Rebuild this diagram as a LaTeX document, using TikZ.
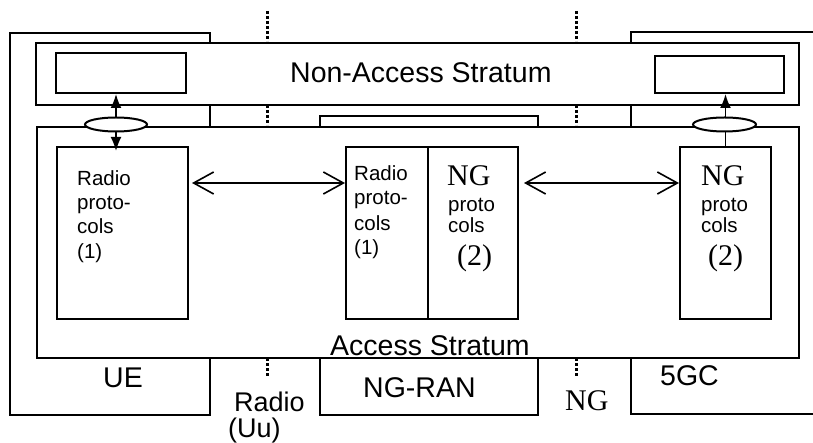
\documentclass[tikz,border=0pt]{standalone}
\usepackage{fontspec}
\setmainfont{Liberation Sans}
\newfontfamily\tms{Liberation Serif}
\usetikzlibrary{arrows.meta,shapes.geometric}
\begin{document}
\begin{tikzpicture}[x=1pt,y=-1pt,
  box/.style={draw, fill=white, rectangle, inner sep=0pt, line width=2pt, anchor=north west},
  oval/.style={draw, fill=white, ellipse, inner sep=0pt, line width=2pt},
  biglabel/.style={anchor=base west, inner sep=0pt, font=\fontsize{28.5pt}{30pt}\selectfont},
  ifacelabel/.style={anchor=base west, inner sep=0pt, font=\fontsize{27pt}{29pt}\selectfont},
  ptext/.style={anchor=base west, inner sep=0pt, font=\fontsize{20.5pt}{24pt}\selectfont},
  serlabel/.style={anchor=base west, inner sep=0pt, font=\tms\fontsize{30pt}{32pt}\selectfont},
  dotline/.style={line width=3pt, dash pattern=on 3pt off 2pt},
  uparrow/.style={line width=1.8pt, -{Latex[length=14pt,width=11pt]}},
  duparrow/.style={line width=1.8pt, {Latex[length=14pt,width=11pt]}-{Latex[length=14pt,width=11pt]}},
  harrow/.style={line width=1.6pt, {Straight Barb[length=20pt,width=22pt]}-{Straight Barb[length=20pt,width=22pt]}},
  ]
\useasboundingbox (0,0) rectangle (813,443);

% outer entity boxes
\node[box, minimum width=200pt, minimum height=382pt] (ue) at (9,32) {};
\coordinate (cA) at (814,32);
\coordinate (cB) at (631,32);
\coordinate (cC) at (631,414);
\coordinate (cD) at (814,414);
\draw[line width=2pt] (cA) -- (cB) -- (cC) -- (cD);
\node[box, minimum width=218pt, minimum height=299pt] (ran) at (319,115) {};

% strata
\node[box, minimum width=763pt, minimum height=62pt] (nas) at (35,42) {};
\node[box, minimum width=762pt, minimum height=231pt] (as) at (36,126) {};

% NAS inner boxes
\node[box, minimum width=130pt, minimum height=40pt] (nasL) at (55,52) {};
\node[box, minimum width=129pt, minimum height=37pt] (nasR) at (654,55) {};

% protocol boxes
\node[box, minimum width=131pt, minimum height=172pt] (rp1) at (56,146) {};
\node[box, minimum width=82pt, minimum height=172pt] (rp2) at (345,146) {};
\node[box, minimum width=90pt, minimum height=172pt] (ngm) at (427,146) {};
\node[box, minimum width=91pt, minimum height=172pt] (ng2) at (679,146) {};

% vertical arrows and ovals
\coordinate (axL) at (116,0);
\draw[duparrow, shorten >=-5pt] (nasL.south -| axL) -- (rp1.north -| axL);
\node[oval, minimum width=62pt, minimum height=14pt] (ovL) at (116,124.5) {};
\draw[uparrow] (ng2.north) -- (nasR.south -| ng2.north);
\node[oval, minimum width=63pt, minimum height=14pt] (ovR) at (724.5,124.5) {};

% horizontal arrows
\coordinate (arrowY) at (0,183);
\draw[harrow, shorten <=3pt] (rp1.east |- arrowY) -- (rp2.west |- arrowY);
\draw[harrow, shorten <=5pt] (ngm.east |- arrowY) -- (ng2.west |- arrowY);

% dotted reference points
\coordinate (d1a) at (267,11); \coordinate (d1b) at (267,41);
\coordinate (d1c) at (267,105); \coordinate (d1d) at (267,125);
\coordinate (d1e) at (267,358); \coordinate (d1f) at (267,377);
\coordinate (d2a) at (576,11); \coordinate (d2b) at (576,41);
\coordinate (d2c) at (576,105); \coordinate (d2d) at (576,125);
\coordinate (d2e) at (576,358); \coordinate (d2f) at (576,377);
\draw[dotline] (d1a) -- (d1b); \draw[dotline] (d1c) -- (d1d); \draw[dotline] (d1e) -- (d1f);
\draw[dotline] (d2a) -- (d2b); \draw[dotline] (d2c) -- (d2d); \draw[dotline] (d2e) -- (d2f);

% large labels
\node[biglabel] (tnas) at (290,83) {Non-Access Stratum};
\node[biglabel] (tas) at (330,355) {Access Stratum};
\node[biglabel] (tue) at (103,387) {UE};
\node[ifacelabel] (tradio) at (234,411) {Radio};
\node[ifacelabel] (tuu) at (228,437) {(Uu)};
\node[biglabel] (tran) at (363,397) {NG-RAN};
\node[serlabel] (tng) at (565,410) {NG};
\node[biglabel] (tgc) at (660,385) {5GC};

% left radio protocols
\node[ptext] (l1) at (77,186) {Radio};
\node[ptext] (l2) at (77,210) {proto-};
\node[ptext] (l3) at (77,234) {cols};
\node[ptext] (l4) at (77,259) {(1)};

% middle radio protocols
\node[ptext] (m1) at (354,181) {Radio};
\node[ptext] (m2) at (354,205) {proto-};
\node[ptext] (m3) at (354,231) {cols};
\node[ptext] (m4) at (354,255) {(1)};

% middle NG protocols
\node[serlabel] (n1) at (447,186) {NG};
\node[ptext] (n2) at (448,212) {proto};
\node[ptext] (n3) at (448,233) {cols};
\node[serlabel] (n4) at (457,266) {(2)};

% right NG protocols
\node[serlabel] (r1) at (701,186) {NG};
\node[ptext] (r2) at (701,212) {proto};
\node[ptext] (r3) at (701,233) {cols};
\node[serlabel] (r4) at (708,266) {(2)};
\end{tikzpicture}
\end{document}
